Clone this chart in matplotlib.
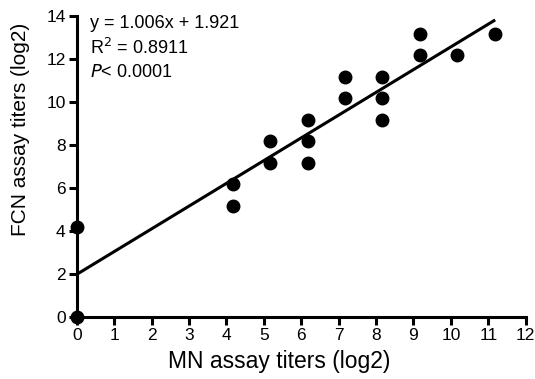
import matplotlib.pyplot as plt

plt.rcParams['font.family'] = ['Liberation Sans', 'DejaVu Sans']

# MN vs FCN titers (log2)
mn_titers = [0, 0, 4.17, 4.17, 5.17, 5.17, 6.17, 6.17, 6.17, 7.17, 7.17,
             8.17, 8.17, 8.17, 9.17, 9.17, 10.17, 11.17]
fcn_titers = [0, 4.17, 6.17, 5.17, 8.17, 7.17, 9.17, 8.17, 7.17, 11.17, 10.17,
              11.17, 10.17, 9.17, 13.17, 12.17, 12.17, 13.17]

# regression line as drawn (end points)
fit_x = [0, 11.15]
fit_y = [1.97, 13.78]

fig = plt.figure(figsize=(5.35, 3.79), dpi=100)
ax = fig.add_axes([0.1434, 0.1644, 0.8392, 0.7934])

ax.plot(fit_x, fit_y, color='black', lw=2.2, clip_on=False, zorder=3)
ax.plot(mn_titers, fcn_titers, 'o', color='black', markersize=9, clip_on=False, zorder=4)

ax.set_xlim(0, 12)
ax.set_ylim(0, 14)
ax.set_xticks(range(0, 13))
ax.set_yticks(range(0, 15, 2))
for side in ['top', 'right']:
    ax.spines[side].set_visible(False)
for side in ['left', 'bottom']:
    ax.spines[side].set_linewidth(2.2)
ax.tick_params(width=2.2, length=6, labelsize=12.5, pad=2)

ax.set_xlabel('MN assay titers (log2)', fontsize=16.5)
ax.xaxis.set_label_coords(0.452, -0.112)
ax.set_ylabel('FCN assay titers (log2)', fontsize=15)
ax.yaxis.set_label_coords(-0.104, 0.624)

ax.text(0.36, 13.63, 'y = 1.006x + 1.921', fontsize=13, va='center')
ax.text(0.36, 12.5, r'R$^2$ = 0.8911', fontsize=13, va='center')
ax.text(0.36, 11.38, r'$\it{P}$< 0.0001', fontsize=13, va='center')

plt.savefig('out.png', dpi=100)
